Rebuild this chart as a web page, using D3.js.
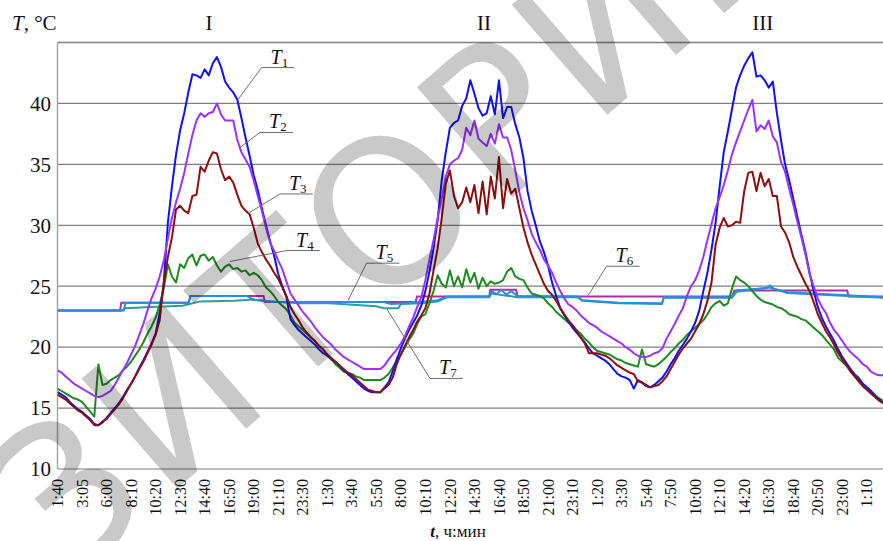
<!DOCTYPE html>
<html>
<head>
<meta charset="utf-8">
<script src="https://cdn.jsdelivr.net/npm/d3@7"></script>
<style>
    body { margin: 0; background: #fff; }
    svg { display: block; }
</style>
</head>
<body>
<div id="chart"></div>
<script>
// Температура T1..T7 за трое суток (I, II, III); 6 отсчётов на интервал подписи

const timeLabels = ['1:40', '3:05', '6:00', '8:10', '10:20', '12:30', '14:40', '16:50', '19:00', '21:10', '23:30',
    '1:30', '3:40', '5:50', '8:00', '10:10', '12:20', '14:30', '16:40', '18:50', '21:00', '23:10',
    '1:20', '3:30', '5:40', '7:50', '10:00', '12:10', '14:20', '16:30', '18:40', '20:50', '23:00', '1:10'];
const yTicks = [10, 15, 20, 25, 30, 35, 40];
const dayNames = ['I', 'II', 'III'];
const dayAt = [6.18, 17.39, 28.76];

const t1 = [
    16.3, 16.1, 15.9, 15.5, 15.2, 14.9,
    14.7, 14.4, 14.1, 13.7, 13.6, 13.8,
    14.2, 14.6, 15.0, 15.4, 15.9, 16.5,
    17.0, 17.6, 18.3, 18.9, 19.6, 20.3,
    21.1, 22.8, 25.3, 30.2, 33.2, 35.8,
    37.8, 39.2, 40.9, 42.4, 42.3, 42.1,
    42.8, 42.3, 43.3, 43.8, 43.0, 41.8,
    41.3, 40.9, 40.3, 38.8, 37.2, 35.7,
    34.1, 32.9, 31.4, 30.0, 28.7, 27.5,
    26.0, 25.0, 24.1, 22.3, 21.8, 21.4,
    21.1, 20.8, 20.5, 20.2, 19.8, 19.5,
    19.3, 19.0, 18.8, 18.5, 18.1, 17.8,
    17.5, 17.2, 16.9, 16.6, 16.4, 16.3,
    16.3, 16.3, 16.7, 17.1, 18.0, 19.0,
    19.9, 20.7, 21.4, 22.0, 22.6, 23.4,
    24.6, 26.2, 28.1, 30.4, 33.7, 36.0,
    38.0, 38.4, 38.6, 39.8, 40.4, 41.9,
    40.8, 39.6, 39.0, 39.2, 40.6, 39.1,
    41.9, 38.8, 39.7, 39.7, 38.3, 37.2,
    35.5, 32.8, 31.2, 30.0, 28.7, 27.8,
    26.7, 25.3, 24.2, 23.2, 22.6, 22.1,
    21.6, 21.2, 20.8, 20.4, 19.9, 19.5,
    19.3, 19.1, 18.9, 18.6, 18.2, 17.8,
    17.6, 17.5, 17.3, 16.6, 17.3, 17.1,
    16.8, 16.7, 16.9, 17.2, 17.5, 18.0,
    18.6, 19.1, 19.7, 20.2, 20.7, 21.3,
    22.0, 23.0, 24.6, 26.1, 28.0, 30.2,
    33.2, 36.0, 37.7, 39.5, 41.3, 42.3,
    43.1, 43.7, 44.2, 42.2, 42.3, 41.9,
    41.3, 41.8, 39.2, 37.0, 35.0, 33.7,
    32.2, 30.7, 29.2, 27.8, 26.1, 24.6,
    23.3, 22.4, 21.7, 21.1, 20.5, 19.8,
    19.2, 18.7, 18.2, 17.7, 17.4, 17.0,
    16.7, 16.4, 16.0, 15.7, 15.4
];

const t2 = [
    18.1, 17.9, 17.6, 17.3, 17.0, 16.8,
    16.6, 16.4, 16.2, 16.0, 15.9, 16.0,
    16.2, 16.4, 16.9, 17.5, 18.1, 18.7,
    19.4, 20.1, 21.0, 21.9, 23.0, 24.0,
    24.8, 25.8, 27.1, 28.9, 30.6, 31.9,
    33.0, 34.3, 35.9, 37.4, 38.6, 39.2,
    38.9, 39.2, 39.3, 40.0, 39.1, 38.6,
    38.6, 38.6, 37.0, 36.0, 35.4, 34.8,
    33.7, 32.4, 31.2, 29.8, 28.6, 27.9,
    27.1, 26.4, 25.4, 24.4, 23.9, 23.4,
    22.9, 22.5, 22.1, 21.6, 21.2, 20.8,
    20.5, 20.2, 19.8, 19.5, 19.2, 19.0,
    18.8, 18.6, 18.4, 18.2, 18.2, 18.2,
    18.2, 18.2, 18.5, 19.0, 19.4, 19.8,
    20.3, 20.9, 21.7, 22.4, 23.3, 24.1,
    25.5, 27.2, 28.8, 30.6, 32.2, 34.0,
    35.0, 35.3, 35.5, 36.2, 38.0, 37.4,
    38.6, 37.1, 36.8, 36.5, 37.5, 36.7,
    38.3, 37.2, 37.2, 36.2, 34.5, 32.7,
    31.4, 30.4, 29.3, 28.6, 28.0, 27.2,
    26.7, 26.1, 25.3, 24.6, 24.0, 23.5,
    23.3, 23.0, 22.6, 22.3, 22.0, 21.8,
    21.6, 21.3, 21.1, 20.9, 20.7, 20.5,
    20.3, 20.0, 19.8, 19.5, 19.3, 19.2,
    19.2, 19.3, 19.5, 19.6, 19.9, 20.7,
    21.3, 21.9, 22.6, 23.2, 24.2, 25.0,
    25.5, 26.3, 27.4, 28.8, 30.1, 31.4,
    32.3, 33.3, 34.5, 35.8, 36.8, 37.7,
    38.6, 39.5, 40.3, 37.7, 38.2, 37.9,
    38.6, 37.3, 36.8, 35.2, 34.4, 33.0,
    31.7, 30.3, 29.0, 27.6, 26.0, 25.0,
    24.0, 23.3, 22.8, 22.0, 21.4, 21.0,
    20.5, 20.0, 19.6, 19.3, 19.0, 18.6,
    18.4, 18.0, 17.8, 17.7, 17.7
];

const t3 = [
    16.1, 15.9, 15.7, 15.4, 15.1, 14.8,
    14.6, 14.3, 14.0, 13.6, 13.6, 13.9,
    14.1, 14.5, 14.9, 15.3, 15.8, 16.4,
    17.0, 17.6, 18.2, 18.8, 19.5, 20.2,
    21.0, 22.2, 25.3, 27.4, 29.0, 31.3,
    31.6, 31.2, 31.0, 32.4, 32.5, 34.8,
    34.4, 35.3, 36.0, 35.9, 34.6, 33.7,
    34.0, 33.5, 32.5, 31.6, 31.2, 30.9,
    29.8, 28.5, 27.8, 27.2, 26.7, 26.1,
    25.6, 24.9, 24.2, 23.3, 22.7, 22.2,
    21.6, 21.2, 20.8, 20.5, 20.1, 19.8,
    19.4, 19.1, 18.8, 18.5, 18.2, 17.9,
    17.7, 17.4, 17.1, 16.8, 16.5, 16.4,
    16.3, 16.3, 16.6, 16.9, 17.5, 18.6,
    19.4, 20.1, 20.8, 21.4, 22.1, 22.6,
    23.2, 24.4, 26.3, 28.1, 30.6, 33.4,
    34.5, 32.4, 31.4, 31.9, 33.1, 31.9,
    33.3, 31.0, 33.6, 30.9, 34.0, 32.2,
    35.6, 31.4, 33.8, 32.6, 33.0, 31.4,
    29.8, 28.6, 27.6, 26.8, 26.0, 25.2,
    24.6, 24.3, 23.8, 23.2, 22.7, 22.2,
    21.8, 21.3, 20.8, 20.3, 19.5, 19.5,
    19.5, 19.4, 19.3, 19.1, 18.8, 18.5,
    18.3, 18.1, 17.9, 17.8, 17.2, 17.1,
    16.9, 16.7, 16.8, 16.9, 17.2, 17.6,
    18.2, 18.8, 19.4, 19.9, 20.3, 20.7,
    21.3, 21.9, 22.7, 23.8, 25.3, 28.4,
    29.8, 30.6, 29.9, 30.0, 30.3, 30.2,
    32.8, 34.3, 34.4, 32.8, 34.3, 33.2,
    33.8, 32.4, 32.4, 29.9, 29.4, 28.6,
    27.4, 26.6, 25.9, 25.2, 24.6, 23.7,
    22.7, 22.0, 21.3, 20.8, 20.2, 19.5,
    19.0, 18.5, 18.0, 17.6, 17.2, 16.8,
    16.5, 16.2, 15.9, 15.6, 15.4
];

const t4 = [
    16.6, 16.4, 16.2, 16.0, 15.8, 15.7,
    15.5, 15.1, 14.7, 14.3, 18.6, 16.9,
    17.0, 17.3, 17.5, 17.7, 18.1, 18.4,
    18.8, 19.3, 19.8, 20.4, 21.1, 21.7,
    22.4, 23.5, 24.8, 26.8, 25.8, 25.3,
    26.8, 26.5, 27.3, 27.6, 26.7, 27.5,
    27.6, 27.1, 27.4, 26.7, 26.2, 26.6,
    26.8, 26.4, 26.5, 26.2, 26.3, 25.9,
    26.1, 25.9, 25.5, 24.9, 24.6, 24.2,
    23.7, 23.4, 23.1, 22.6, 22.0, 21.7,
    21.4, 21.1, 20.8, 20.5, 20.1, 19.8,
    19.4, 19.0, 18.6, 18.3, 18.0, 17.9,
    17.8, 17.6, 17.5, 17.3, 17.3, 17.3,
    17.3, 17.3, 17.5, 17.8, 18.3, 18.9,
    19.4, 20.0, 20.6, 21.1, 21.9, 22.5,
    22.7, 23.6, 24.6, 25.9, 25.2, 24.9,
    26.3, 25.0, 25.8, 24.9, 26.4, 25.3,
    26.1, 24.8, 25.7, 25.0, 25.4, 25.2,
    25.3, 25.5, 26.2, 26.5, 25.8, 25.6,
    25.5, 24.9, 24.4, 24.3, 24.2, 24.0,
    23.6, 23.3, 22.9, 22.6, 22.3, 22.0,
    21.8, 21.4, 21.1, 20.7, 20.4, 20.0,
    19.7, 19.6, 19.5, 19.4, 19.2, 19.0,
    18.9, 18.7, 18.6, 18.5, 18.4, 19.8,
    18.6, 18.5, 18.4, 18.6, 18.9, 19.2,
    19.6, 19.9, 20.3, 20.6, 21.0, 21.3,
    21.6, 21.9, 22.2, 22.7, 23.3, 23.6,
    23.8, 23.4, 23.6, 24.8, 25.8, 25.5,
    25.3, 25.0, 24.6, 24.2, 23.9, 23.7,
    23.6, 23.5, 23.3, 23.2, 23.0, 22.7,
    22.6, 22.5, 22.3, 22.2, 21.9, 21.6,
    21.3, 21.0, 20.6, 20.2, 19.8, 19.1,
    18.8, 18.5, 18.2, 17.8, 17.5, 17.0,
    16.7, 16.4, 16.1, 15.8, 15.6
];

// почти постоянные датчики: [позиция в интервалах подписей, T]
const t5 = [[0, 23.0], [2.55, 23.0], [2.6, 23.65], [5.35, 23.65], [5.42, 24.2], [8.4, 24.2], [8.46, 23.7],
    [14.6, 23.7], [14.66, 24.15], [17.6, 24.15], [17.65, 24.7], [18.7, 24.7], [18.76, 24.15],
    [27.5, 24.15], [27.6, 24.65], [32.2, 24.65], [32.26, 24.15], [33.7, 24.15]];
const t6 = [[0, 23.0], [2.7, 23.0], [2.78, 23.65], [5.35, 23.65], [5.42, 24.2], [7.7, 24.2], [8.0, 23.9],
    [8.95, 23.7], [13.3, 23.7], [13.6, 23.55], [14.2, 23.6], [14.8, 23.7], [15.5, 23.85], [15.9, 24.15],
    [17.6, 24.15], [17.7, 24.6], [17.9, 24.35], [18.1, 24.7], [18.3, 24.3], [18.5, 24.6], [18.75, 24.2],
    [21.2, 24.15], [21.4, 23.85], [22.9, 23.65], [24.65, 23.6], [24.72, 24.1], [27.5, 24.1], [27.7, 24.65],
    [28.9, 24.85], [29.05, 25.05], [29.2, 24.8], [29.75, 24.5], [30.8, 24.4], [32.2, 24.25], [33.7, 24.1]];
const t7 = [[0, 23.0], [2.65, 23.0], [2.75, 23.2], [3.8, 23.3], [5.1, 23.4], [5.8, 23.75], [7.2, 23.8],
    [8.0, 23.9], [8.6, 23.75], [9.9, 23.6], [11.1, 23.6], [13.0, 23.35], [13.3, 23.2], [13.9, 23.2],
    [14.0, 23.55], [14.8, 23.6], [15.5, 23.75], [15.9, 24.1], [17.6, 24.1], [17.7, 24.4], [18.75, 24.1],
    [21.2, 24.1], [21.4, 23.8], [22.9, 23.6], [24.65, 23.55], [24.72, 24.05], [27.5, 24.05], [27.7, 24.55],
    [29.05, 24.9], [29.75, 24.45], [32.2, 24.2], [33.7, 24.05]];

// выноски: точка на кривой и излом выноски
const calloutIdx = ['1', '2', '3', '4', '5', '6', '7'];
const calloutFrom = [[7.37, 40.35], [7.44, 36.39], [7.85, 31.07], [7.03, 27.03], [11.85, 23.84], [21.64, 24.25], [13.42, 23.16]];
const calloutBend = [[8.32, 42.94], [8.26, 37.62], [9.07, 32.57], [9.36, 27.93], [12.6, 26.89], [22.39, 26.64], [15.19, 17.43]];

const width = 883;
const height = 541;
const serif = '"Liberation Serif", "Times New Roman", serif';

const svg = d3.select('#chart').append('svg')
    .attr('width', width)
    .attr('height', height)
    .style('font-family', serif);

const x = d3.scaleLinear().domain([0, 33.66]).range([57.5, 883]);
const y = d3.scaleLinear().domain([10, 45]).range([469, 42.5]);
const perLabel = 6;

svg.append('defs').append('clipPath').attr('id', 'plotClip')
    .append('rect')
    .attr('x', x(0))
    .attr('y', y(45))
    .attr('width', x(33.66) - x(0))
    .attr('height', y(10) - y(45));

// сетка
const grid = svg.append('g');
grid.selectAll('line.h').data([15, 20, 25, 30, 35, 40, 45]).enter().append('line')
    .attr('x1', x(0)).attr('x2', width)
    .attr('y1', (d) => y(d)).attr('y2', (d) => y(d))
    .attr('stroke', '#808080')
    .attr('stroke-width', 1.3);
grid.append('line')
    .attr('x1', x(0)).attr('x2', width)
    .attr('y1', y(10)).attr('y2', y(10))
    .attr('stroke', '#a6a6a6').attr('stroke-width', 1.5);
grid.append('line')
    .attr('x1', x(0)).attr('x2', x(0))
    .attr('y1', y(45)).attr('y2', y(10))
    .attr('stroke', '#a6a6a6').attr('stroke-width', 1.5);

// подписи оси Y
svg.append('g').selectAll('text').data(yTicks).enter().append('text')
    .attr('x', 51)
    .attr('y', (d) => y(d))
    .attr('dy', '0.35em')
    .attr('text-anchor', 'end')
    .attr('font-size', '21px')
    .attr('fill', '#111')
    .text((d) => d);

// подписи оси времени
svg.append('g').selectAll('text').data(timeLabels).enter().append('text')
    .attr('transform', (d, i) => `translate(${x(i)}, 479) rotate(-90)`)
    .attr('dy', '0.35em')
    .attr('text-anchor', 'end')
    .attr('font-size', '16px')
    .attr('fill', '#111')
    .text((d) => d);

const axisT = svg.append('text')
    .attr('x', 12).attr('y', 30)
    .attr('font-size', '21px')
    .attr('fill', '#111');
axisT.append('tspan').attr('font-style', 'italic').text('T');
axisT.append('tspan').text(', °C');

const axisTime = svg.append('text')
    .attr('x', 458).attr('y', 537)
    .attr('text-anchor', 'middle')
    .attr('font-size', '17px')
    .attr('fill', '#111');
axisTime.append('tspan').attr('font-style', 'italic').attr('font-weight', 'bold').text('t');
axisTime.append('tspan').text(', ч:мин');

svg.append('g').selectAll('text').data(dayNames).enter().append('text')
    .attr('x', (d, i) => x(dayAt[i]))
    .attr('y', 30)
    .attr('text-anchor', 'middle')
    .attr('font-size', '21px')
    .attr('fill', '#111')
    .text((d) => d);

// кривые
const plot = svg.append('g').attr('clip-path', 'url(#plotClip)');
const sampled = d3.line()
    .x((d, i) => x(i / perLabel))
    .y((d) => y(d));
const stepped = d3.line()
    .x((d) => x(d[0]))
    .y((d) => y(d[1]));

const flatSeries = [
    { data: t5, color: '#a8329e' },
    { data: t7, color: '#2a9f9f' },
    { data: t6, color: '#2b8ce6' }
];
const mainSeries = [
    { data: t4, color: '#1f8a1f' },
    { data: t1, color: '#1010f5' },
    { data: t2, color: '#9933ff' },
    { data: t3, color: '#8b0f0f' }
];

plot.selectAll('path.flat').data(flatSeries).enter().append('path')
    .attr('class', 'flat')
    .attr('d', (d) => stepped(d.data))
    .attr('fill', 'none')
    .attr('stroke', (d) => d.color)
    .attr('stroke-width', 2);
plot.selectAll('path.main').data(mainSeries).enter().append('path')
    .attr('class', 'main')
    .attr('d', (d) => sampled(d.data))
    .attr('fill', 'none')
    .attr('stroke', (d) => d.color)
    .attr('stroke-width', 2)
    .attr('stroke-linejoin', 'round');

// выноски T1..T7
const callouts = svg.append('g').selectAll('g').data(calloutIdx).enter().append('g');
callouts.append('polyline')
    .attr('points', (d, i) => {
        const [u0, v0] = calloutFrom[i];
        const [u1, v1] = calloutBend[i];
        return `${x(u0)},${y(v0)} ${x(u1)},${y(v1)} ${x(u1) + 33},${y(v1)}`;
    })
    .attr('fill', 'none')
    .attr('stroke', '#6e6e6e')
    .attr('stroke-width', 1);
const calloutText = callouts.append('text')
    .attr('x', (d, i) => x(calloutBend[i][0]) + 9)
    .attr('y', (d, i) => y(calloutBend[i][1]) - 4)
    .attr('font-size', '20px')
    .attr('fill', '#111');
calloutText.append('tspan').attr('font-style', 'italic').text('T');
calloutText.append('tspan').attr('font-size', '13px').attr('dy', 3).text((d) => d);

// водяной знак
svg.append('text')
    .attr('transform', 'translate(62, 589) rotate(-41)')
    .attr('font-family', '"DejaVu Sans", sans-serif')
    .attr('font-size', '200px')
    .attr('letter-spacing', '5px')
    .attr('fill', '#000')
    .attr('fill-opacity', 0.21)
    .style('pointer-events', 'none')
    .text('ЗИТОРИЙ');
</script>
</body>
</html>
